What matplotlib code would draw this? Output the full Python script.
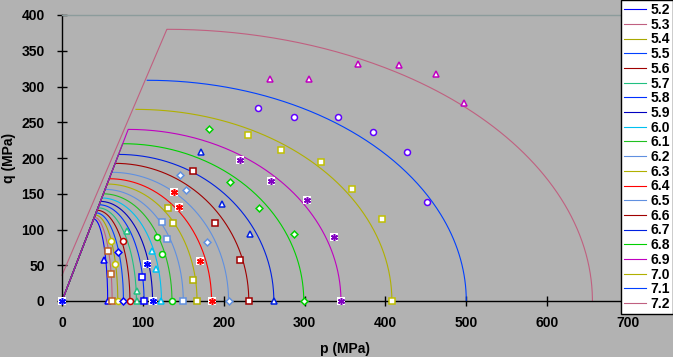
import numpy as np
import matplotlib
matplotlib.use("Agg")
import matplotlib.pyplot as plt

plt.rcParams['font.family'] = ['Liberation Sans', 'DejaVu Sans']

# ---- data ----
series = ['5.2', '5.3', '5.4', '5.5', '5.6', '5.7', '5.8', '5.9', '6.0', '6.1', '6.2',
          '6.3', '6.4', '6.5', '6.6', '6.7', '6.8', '6.9', '7.0', '7.1', '7.2']
line_colors = ['#0000ff', '#c06080', '#a8a800', '#0040ff', '#a00000', '#20c080', '#0030ff',
               '#0000c0', '#00c0f0', '#20c020', '#6090e0', '#b0b000', '#ff0000', '#6090e0',
               '#a00000', '#0020e0', '#00d000', '#c000c0', '#b0b000', '#0040ff', '#c06080']
# cap end on p axis
cap_X = [56.5, 62, 69, 76, 84, 92, 101.5, 112, 123, 136, 150, 167, 185, 206, 231, 262,
         299, 345, 408, 500, 656]
# q at the top of each cap
cap_q = [114.7, 117.1, 120.2, 123.3, 126.9, 130.4, 134.6, 139.3, 144.1, 149.9, 156.1,
         163.6, 171, 180, 192.5, 205, 220, 240, 268, 308.7, 380]
# p at the top of each cap
cap_p = [39.1, 40.0, 41.0, 42.1, 43.3, 44.5, 45.9, 47.5, 49.2, 51.2, 53.3,
         55.8, 58.4, 61.4, 65.7, 70.0, 75.1, 81.9, 91.5, 105.4, 129.7]
# q where the shear line starts at p = 0 (None = no line drawn)
line_q0 = [0, 0, 0, 0, 0, 0, 0, 0, 0, 0, 0, 0, 0, 0, 0, 0, 0, 0, None, None, 36]

# measured points
pts_p = [
    [52.3, 56.5],
    [56.5, 60.4, 62],
    [60.6, 65.5, 69],
    [69.7, 76],
    [75, 84],
    [80.8, 92.3, 92.3],
    [99.3, 101.5],
    [0, 104.7, 112],
    [111, 116.3, 123],
    [117, 123.7, 136],
    [124, 130, 150],
    [130.7, 137.7, 161.6, 167],
    [138.1, 145.1, 170.7, 185],
    [146.3, 153.4, 179.7, 206],
    [161.6, 189.2, 219.8, 231],
    [171.9, 197.9, 232.5, 262],
    [182.2, 207.4, 243.6, 286.9, 299],
    [220, 258, 302.6, 336.4, 345.5],
    [229.7, 271.3, 320.7, 358.3, 395.4, 408],
    [242.8, 286.9, 341, 385, 426.7, 451],
    [257.2, 305.1, 366, 416.4, 462.5, 497.5],
]
pts_q = [
    [57.3, 0],
    [70.4, 38, 0],
    [84.4, 52.2, 0],
    [68, 0],
    [83.5, 0],
    [97.9, 14, 0],
    [34, 0],
    [0, 52.2, 0],
    [70, 44.8, 0],
    [90, 65.7, 0],
    [110, 86.7, 0],
    [130.5, 108.7, 29.4, 0],
    [152.9, 131.9, 56.4, 0],
    [176.6, 155.7, 83, 0],
    [182.2, 109.5, 57.3, 0],
    [208.8, 135.7, 93.3, 0],
    [240.6, 166, 130.5, 93.3, 0],
    [197, 168.3, 141.3, 89.1, 0],
    [231.7, 210.8, 194.8, 156.6, 114.7, 0],
    [269.5, 257.3, 256.9, 236.4, 208.4, 138.9],
    [311, 311, 331, 330, 317.5, 277.3],
]
pt_colors = ['#0000ff', '#c06020', '#c0c000', '#0000ff', '#c00000', '#20c080', '#0000ff',
             '#0000ff', '#00c0f0', '#00d000', '#6090e0', '#b0b000', '#ff0000', '#6090e0',
             '#a00000', '#0020e0', '#00d000', '#8000c0', '#c0c000', '#6000ff', '#c000c0']
pt_markers = ['^', 's', 'o', 'D', 'o', '^', 's', '*', '^', 'o', 's', 's', '*', 'D', 's',
              '^', 'D', '*', 's', 'o', '^']

x_ticks = [0, 100, 200, 300, 400, 500, 600, 700]
y_ticks = [0, 50, 100, 150, 200, 250, 300, 350, 400]

# ---- figure ----
BG = '#b2b2b2'
fig = plt.figure(figsize=(6.73, 3.57), dpi=100, facecolor=BG)
ax = fig.add_axes([62 / 673, 1 - 301 / 357, (628 - 62) / 673, (301 - 15) / 357])
ax.set_facecolor(BG)

handles = []
t = np.linspace(0, np.pi / 2, 200)
for i, name in enumerate(series):
    c = line_colors[i]
    pL, qL, X = cap_p[i], cap_q[i], cap_X[i]
    px = pL + (X - pL) * np.cos(t)
    qy = qL * np.sin(t)
    if line_q0[i] is not None:
        px = np.concatenate([[0, pL], px[::-1]])
        qy = np.concatenate([[line_q0[i], qL], qy[::-1]])
    h, = ax.plot(px, qy, color=c, lw=0.8, label=name, clip_on=False, zorder=2)
    handles.append(h)

for i in range(len(series)):
    m = pt_markers[i]
    c = pt_colors[i]
    if m == '*':
        ax.plot(pts_p[i], pts_q[i], ls='none', marker='s', ms=5.5, mfc='white', mec='white',
                mew=0, clip_on=False, zorder=4)
        ax.plot(pts_p[i], pts_q[i], ls='none', marker=(6, 2, 0), ms=5, mec=c, mew=1.1,
                clip_on=False, zorder=5)
    else:
        ms = {'^': 4.8, 's': 4.6, 'o': 4.3, 'D': 3.5}[m]
        ax.plot(pts_p[i], pts_q[i], ls='none', marker=m, ms=ms, mfc='white', mec=c,
                mew=1.1, clip_on=False, zorder=5)

ax.set_xlim(0, 700)
ax.set_ylim(0, 400)
ax.set_xticks(x_ticks)
ax.set_yticks(y_ticks)
ax.tick_params(direction='inout', length=7, width=1, colors='black', labelsize=10)
ax.tick_params(axis='x', pad=7)
ax.tick_params(axis='y', pad=9)
for lab in ax.get_xticklabels() + ax.get_yticklabels():
    lab.set_fontweight('bold')

for s in ['left', 'bottom']:
    ax.spines[s].set_color('black')
    ax.spines[s].set_linewidth(1)
ax.spines['right'].set_visible(False)
ax.spines['top'].set_color('#8c9c9c')
ax.spines['top'].set_linewidth(1)

ax.set_xlabel('p (MPa)', fontsize=10, fontweight='bold', labelpad=9)
ax.set_ylabel('q (MPa)', fontsize=10, fontweight='bold', labelpad=4)

leg = fig.legend(handles=handles, loc='upper left', bbox_to_anchor=(621 / 673, 1.0),
                 frameon=True, fancybox=False, edgecolor='black', facecolor='white',
                 framealpha=1, prop={'weight': 'bold', 'size': 10},
                 handlelength=1.6, handletextpad=0.3, labelspacing=0.05,
                 borderpad=0.22, borderaxespad=0)
leg.get_frame().set_linewidth(1)

fig.savefig('out.png', dpi=100, facecolor=BG)
